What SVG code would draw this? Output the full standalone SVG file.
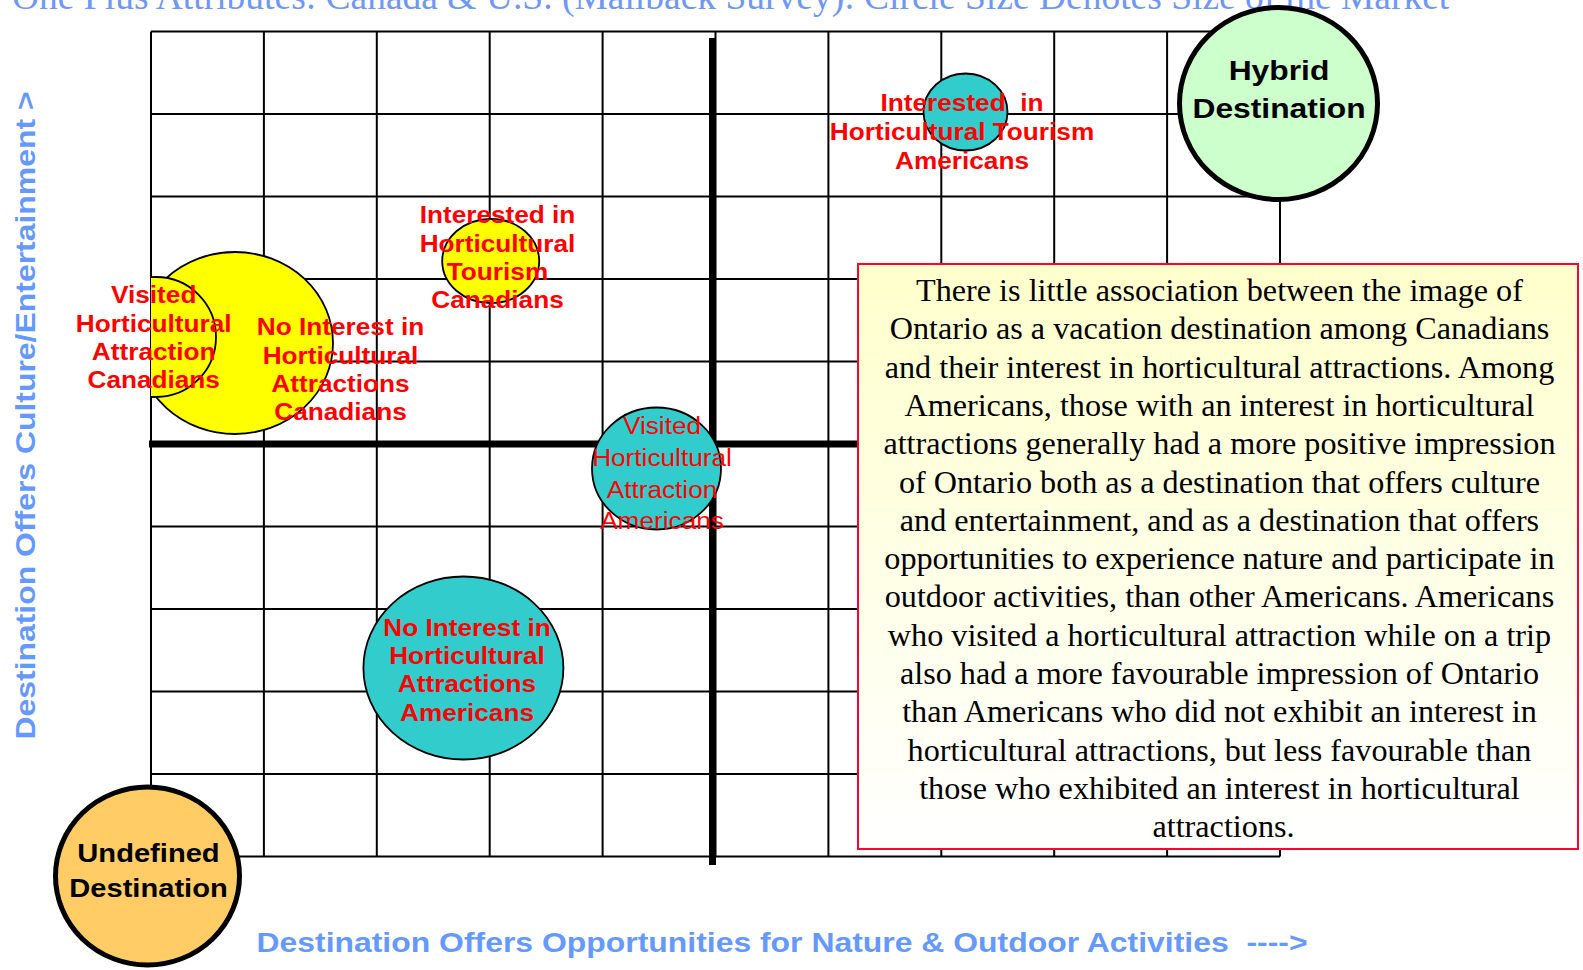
<svg xmlns="http://www.w3.org/2000/svg" width="1583" height="970" viewBox="0 0 1583 970">
<defs>
<linearGradient id="boxFill" x1="0" y1="0" x2="0" y2="1"><stop offset="0" stop-color="#FFFFCC"/><stop offset="1" stop-color="#FFFFFF"/></linearGradient>
<clipPath id="leftClip"><rect x="151" y="0" width="1432" height="970"/></clipPath>
</defs>
<style>
.grid line{stroke:#000;stroke-width:2}
.axis{stroke:#000;stroke-width:7}
.bub{stroke:#000;stroke-width:1.8}
.big{stroke:#000;stroke-width:5}
.lbl{font-family:"Liberation Sans",Arial,sans-serif;font-weight:bold;fill:#FF0000;font-size:23.4px;text-anchor:middle}
.lblr{font-family:"Liberation Sans",Arial,sans-serif;font-weight:normal;fill:#FF0000;font-size:23.4px;text-anchor:middle}
.dest{font-family:"Liberation Sans",Arial,sans-serif;font-weight:bold;fill:#000;text-anchor:middle}
.axl{font-family:"Liberation Sans",Arial,sans-serif;font-weight:bold;fill:#6699FF;font-size:28.5px;text-anchor:middle}
.title{font-family:"Liberation Serif","Times New Roman",serif;fill:#6F97F7;font-size:37.5px}
.body{font-family:"Liberation Serif","Times New Roman",serif;fill:#000;font-size:32.2px;text-anchor:middle}
</style>
<rect width="1583" height="970" fill="#FFFFFF"/>
<text id="title" class="title" x="12" y="9">One Plus Attributes: Canada &amp; U.S. (Mailback Survey): Circle Size Denotes Size of the Market</text>
<g id="grid" class="grid">
<line x1="151" y1="31.5" x2="151" y2="856.5"/>
<line x1="263.9" y1="31.5" x2="263.9" y2="856.5"/>
<line x1="376.8" y1="31.5" x2="376.8" y2="856.5"/>
<line x1="489.7" y1="31.5" x2="489.7" y2="856.5"/>
<line x1="602.6" y1="31.5" x2="602.6" y2="856.5"/>
<line x1="715.5" y1="31.5" x2="715.5" y2="856.5"/>
<line x1="828.4" y1="31.5" x2="828.4" y2="856.5"/>
<line x1="941.3" y1="31.5" x2="941.3" y2="856.5"/>
<line x1="1054.2" y1="31.5" x2="1054.2" y2="856.5"/>
<line x1="1167.1" y1="31.5" x2="1167.1" y2="856.5"/>
<line x1="1280" y1="31.5" x2="1280" y2="856.5"/>
<line x1="151" y1="31.5" x2="1280" y2="31.5"/>
<line x1="151" y1="114" x2="1280" y2="114"/>
<line x1="151" y1="196.5" x2="1280" y2="196.5"/>
<line x1="151" y1="279" x2="1280" y2="279"/>
<line x1="151" y1="361.5" x2="1280" y2="361.5"/>
<line x1="151" y1="444" x2="1280" y2="444"/>
<line x1="151" y1="526.5" x2="1280" y2="526.5"/>
<line x1="151" y1="609" x2="1280" y2="609"/>
<line x1="151" y1="691.5" x2="1280" y2="691.5"/>
<line x1="151" y1="774" x2="1280" y2="774"/>
<line x1="151" y1="856.5" x2="1280" y2="856.5"/>
</g>
<g id="connectors">
<line class="axis" x1="712.5" y1="38" x2="712.5" y2="865"/>
<line class="axis" x1="149" y1="444" x2="1000" y2="444"/>
</g>
<g id="no-interest-canadians">
<ellipse class="bub" cx="235" cy="343" rx="98" ry="91" fill="#FFFF00" clip-path="url(#leftClip)"/>
</g>
<g id="visited-canadians">
<ellipse class="bub" cx="156" cy="337" rx="60" ry="60" fill="#FFFF00" clip-path="url(#leftClip)"/>
</g>
<g id="interested-canadians">
<ellipse class="bub" cx="490.7" cy="261" rx="48.5" ry="42" fill="#FFFF00"/>
</g>
<g id="interested-americans">
<ellipse class="bub" cx="965.5" cy="112" rx="42" ry="38.5" fill="#33CCCC"/>
</g>
<g id="visited-americans">
<ellipse class="bub" cx="656.5" cy="468.5" rx="64.5" ry="61" fill="#33CCCC"/>
</g>
<g id="no-interest-americans">
<ellipse class="bub" cx="463.4" cy="668" rx="100" ry="91.5" fill="#33CCCC"/>
</g>
<g id="hybrid-destination">
<ellipse class="big" cx="1278.5" cy="103.5" rx="99" ry="96" fill="#CCFFCC"/>
<g transform="translate(1279 0) scale(1.12 1)"><text class="dest" style="font-size:28.4px"><tspan x="0" y="80">Hybrid</tspan><tspan x="0" y="118">Destination</tspan></text></g>
</g>
<g id="undefined-destination">
<ellipse class="big" cx="147.5" cy="876" rx="92" ry="89" fill="#FFCC66"/>
<g transform="translate(148.5 0) scale(1.12 1)"><text class="dest" style="font-size:26px"><tspan x="0" y="862">Undefined</tspan><tspan x="0" y="897">Destination</tspan></text></g>
</g>
<g id="labels">
<g transform="translate(153.7 0) scale(1.12 1)"><text class="lbl"><tspan x="0" y="303">Visited</tspan><tspan x="0" y="332">Horticultural</tspan><tspan x="0" y="360">Attraction</tspan><tspan x="0" y="388">Canadians</tspan></text></g>
<g transform="translate(340.5 0) scale(1.12 1)"><text class="lbl"><tspan x="0" y="335.5">No Interest in</tspan><tspan x="0" y="364">Horticultural</tspan><tspan x="0" y="392">Attractions</tspan><tspan x="0" y="420.5">Canadians</tspan></text></g>
<g transform="translate(497.5 0) scale(1.12 1)"><text class="lbl"><tspan x="0" y="223">Interested in</tspan><tspan x="0" y="252">Horticultural</tspan><tspan x="0" y="280.5">Tourism</tspan><tspan x="0" y="308.5">Canadians</tspan></text></g>
<g transform="translate(962 0) scale(1.12 1)"><text class="lbl" xml:space="preserve"><tspan x="0" y="111">Interested  in</tspan><tspan x="0" y="140">Horticultural Tourism</tspan><tspan x="0" y="169">Americans</tspan></text></g>
<g transform="translate(662 0) scale(1.12 1)"><text class="lblr"><tspan x="0" y="434">Visited</tspan><tspan x="0" y="466">Horticultural</tspan><tspan x="0" y="498">Attraction</tspan><tspan x="0" y="529">Americans</tspan></text></g>
<g transform="translate(467 0) scale(1.12 1)"><text class="lbl"><tspan x="0" y="636">No Interest in</tspan><tspan x="0" y="664">Horticultural</tspan><tspan x="0" y="692.5">Attractions</tspan><tspan x="0" y="721.5">Americans</tspan></text></g>
</g>
<g id="summary-box">
<rect x="858" y="264" width="720" height="585" fill="url(#boxFill)" stroke="#FF0033" stroke-width="2"/>
<text class="body">
<tspan x="1223.5" y="301">There is little association between the image of</tspan>
<tspan x="1223.5" y="339.3">Ontario as a vacation destination among Canadians</tspan>
<tspan x="1223.5" y="377.6">and their interest in horticultural attractions. Among</tspan>
<tspan x="1223.5" y="415.9">Americans, those with an interest in horticultural</tspan>
<tspan x="1223.5" y="454.2">attractions generally had a more positive impression</tspan>
<tspan x="1223.5" y="492.5">of Ontario both as a destination that offers culture</tspan>
<tspan x="1223.5" y="530.8">and entertainment, and as a destination that offers</tspan>
<tspan x="1223.5" y="569.1">opportunities to experience nature and participate in</tspan>
<tspan x="1223.5" y="607.4">outdoor activities, than other Americans. Americans</tspan>
<tspan x="1223.5" y="645.7">who visited a horticultural attraction while on a trip</tspan>
<tspan x="1223.5" y="684">also had a more favourable impression of Ontario</tspan>
<tspan x="1223.5" y="722.3">than Americans who did not exhibit an interest in</tspan>
<tspan x="1223.5" y="760.6">horticultural attractions, but less favourable than</tspan>
<tspan x="1223.5" y="798.9">those who exhibited an interest in horticultural</tspan>
<tspan x="1223.5" y="837.2">attractions.</tspan>
</text>
</g>
<g id="axis-labels">
<g transform="translate(782 0) scale(1.12 1)"><text class="axl" x="0" y="952" xml:space="preserve">Destination Offers Opportunities for Nature &amp; Outdoor Activities  ----&gt;</text></g>
<g transform="translate(35 415.5) rotate(-90) scale(1.12 1)"><text class="axl" x="0" y="0">Destination Offers Culture/Entertainment &gt;</text></g>
</g>
</svg>
